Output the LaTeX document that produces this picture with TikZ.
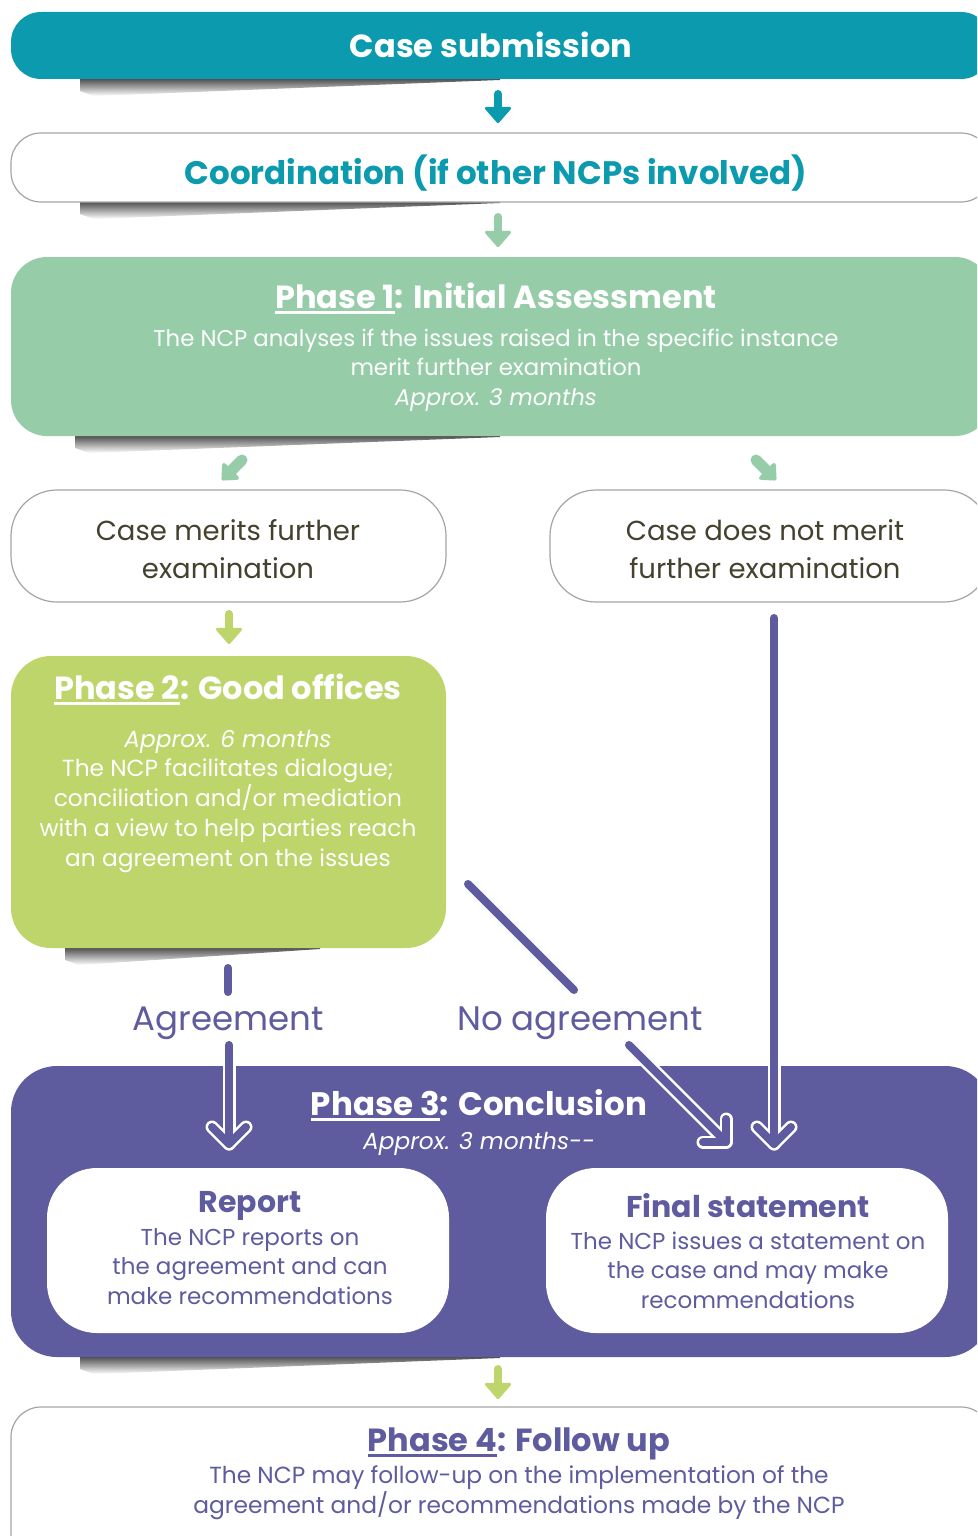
\documentclass[tikz,border=0pt]{standalone}
\usepackage{fontspec}
\setmainfont{Poppins}
\newsavebox{\ulsave}
\newcommand{\ulx}[1]{\sbox{\ulsave}{#1}\rlap{\rule[-5.5pt]{\wd\ulsave}{2.8pt}}\usebox{\ulsave}}
\usetikzlibrary{arrows.meta,calc}
\definecolor{tealA}{HTML}{0B9AAE}
\definecolor{greenA}{HTML}{96CCA8}
\definecolor{limeA}{HTML}{BDD56B}
\definecolor{purpA}{HTML}{5E5B9E}
\definecolor{darkA}{HTML}{45412F}
\definecolor{edgeA}{HTML}{A5A5A5}
\newcommand{\fs}[2]{\fontsize{#1}{#2}\selectfont}
\newcommand{\dropshadow}[3]{%
  \shade[top color=black!80, bottom color=white]
    (#1,#3-3) -- (#2,#3-3) -- (#2,#3+1) -- (#1+14,#3+17) -- (#1,#3+12) -- cycle;}
\tikzset{
  boxshape/.style={rectangle, inner sep=0pt, outer sep=0pt},
  whitebox/.style={boxshape, draw=edgeA, line width=1.2pt, fill=white},
  fillbox/.style={boxshape, fill=#1},
  txt/.style={inner sep=0pt, outer sep=0pt, align=center, anchor=base},
  fat/.style={draw=#1, line width=8pt, line cap=round,
    -{Triangle[round, length=17pt, width=29pt, line width=3pt]}},
  fatdiag/.style={draw=#1, line width=11pt, line cap=round,
    -{Triangle[round, length=15pt, width=26pt, line width=4pt]}},
  pline/.style={draw=purpA, line width=8pt, line cap=round, line join=round},
  pedge/.style={draw=white, line width=13pt, line cap=round, line join=round},
}
\begin{document}
\begin{tikzpicture}[x=1pt,y=-1pt]
\path[use as bounding box] (0,0) rectangle (977,1536);
\clip (0,0) rectangle (977,1536);
\fill[white] (0,0) rectangle (977,1536);

% shadows
\dropshadow{80}{500}{79}
\dropshadow{80}{500}{202}
\dropshadow{75}{500}{436}
\dropshadow{65}{320}{948}
\dropshadow{80}{500}{1357}

% boxes
\node[fillbox=tealA, rounded corners=30pt, minimum width=980pt, minimum height=67pt] (case) at (501,45.5) {};
\node[whitebox, rounded corners=30pt, minimum width=980pt, minimum height=69pt] (coord) at (501,167.5) {};
\node[fillbox=greenA, rounded corners=36pt, minimum width=980pt, minimum height=179pt] (p1) at (501,346.5) {};
\node[whitebox, rounded corners=46pt, minimum width=435pt, minimum height=112pt] (m1) at (228.5,546) {};
\node[whitebox, rounded corners=46pt, minimum width=440pt, minimum height=112pt] (m2) at (770,546) {};
\node[fillbox=limeA, rounded corners=40pt, minimum width=435pt, minimum height=292pt] (p2) at (228.5,802) {};
\node[fillbox=purpA, rounded corners=46pt, minimum width=980pt, minimum height=291pt] (p3) at (501,1211.5) {};
\node[fillbox=white, rounded corners=50pt, minimum width=402pt, minimum height=165pt] (rep) at (248,1250.5) {};
\node[fillbox=white, rounded corners=50pt, minimum width=402pt, minimum height=165pt] (fin) at (747,1250.5) {};
\node[whitebox, rounded corners=30pt, minimum width=980pt, minimum height=170pt] (p4) at (501,1492) {};

% texts (anchor base = baseline of the last line)
\node[txt, text=white, font=\fs{32}{40}\bfseries] (tcase) at (491,58) {Case submission};
\node[txt, text=tealA, font=\fs{32.5}{40}\bfseries] (tcoord) at (496,184) {Coordination (if other NCPs involved)};
\node[txt, text=white, font=\fs{32}{40}\bfseries] (tp1) at (496,308) {\ulx{Phase 1}: Initial Assessment};
\node[txt, text=white, font=\fs{22.8}{29.5}] (bp1) at (496,405) {The NCP analyses if the issues raised in the specific instance\\merit further examination\\\itshape Approx. 3 months};
\node[txt, text=darkA, font=\fs{27.5}{38}] (tm1) at (228,578) {Case merits further\\examination};
\node[txt, text=darkA, font=\fs{27.5}{38}] (tm2) at (765,578) {Case does not merit\\further examination};
\node[txt, text=white, font=\fs{32}{40}\bfseries] (tp2) at (228,699) {\ulx{Phase 2}: Good offices};
\node[txt, text=white, font=\fs{23.3}{29.7}] (bp2) at (228,866) {\itshape Approx. 6 months\\The NCP facilitates dialogue;\\conciliation and/or mediation\\with a view to help parties reach\\an agreement on the issues};
\node[txt, text=purpA, font=\fs{34}{40}] (agr) at (228,1030) {Agreement};
\node[txt, text=purpA, font=\fs{34}{40}] (nagr) at (580,1030) {No agreement};
\node[txt, text=white, font=\fs{32.5}{40}\bfseries] (tp3) at (479,1115) {\ulx{Phase 3}: Conclusion};
\node[txt, text=white, font=\fs{23.3}{30}\itshape] (bp3) at (479,1149) {Approx. 3 months{-}{-}};
\node[txt, text=purpA, font=\fs{30}{36}\bfseries] (trep) at (250,1212) {Report};
\node[txt, text=purpA, font=\fs{23}{29.5}] (brep) at (250,1304) {The NCP reports on\\the agreement and can\\make recommendations};
\node[txt, text=purpA, font=\fs{30}{36}\bfseries] (tfin) at (748,1217) {Final statement};
\node[txt, text=purpA, font=\fs{23}{29.5}] (bfin) at (748,1308) {The NCP issues a statement on\\the case and may make\\recommendations};
\node[txt, text=purpA, font=\fs{32}{40}\bfseries] (tp4) at (519,1451) {\ulx{Phase 4}: Follow up};
\node[txt, text=purpA, font=\fs{23.3}{30}] (bp4) at (519,1513) {The NCP may follow-up on the implementation of the\\agreement and/or recommendations made by the NCP};

% fat arrows
\draw[fat=tealA] ([xshift=-3pt,yshift=-15pt]case.south) -- ([xshift=-3pt,yshift=10pt]coord.north);
\draw[fat=greenA] ([xshift=-3pt,yshift=-15pt]coord.south) -- ([xshift=-3pt,yshift=10pt]p1.north);
\coordinate (d1a) at (242,460);
\coordinate (d1b) at (222,480);
\coordinate (d2a) at (756,460);
\coordinate (d2b) at (776,480);
\draw[fatdiag=greenA] (d1a) -- (d1b);
\draw[fatdiag=greenA] (d2a) -- (d2b);
\draw[fat=limeA] ([xshift=0.5pt,yshift=-12pt]m1.south) -- ([xshift=0.5pt,yshift=12pt]p2.north);
\draw[fat=limeA] ([xshift=-3pt,yshift=-12pt]p3.south) -- ([xshift=-3pt,yshift=8pt]p4.north);

% purple connectors
\coordinate (ag1) at ([yshift=-20pt]p2.south -| agr);
\coordinate (ag2) at ([yshift=-44pt]p2.south -| agr);
\coordinate (ag3) at (229,1045);
\coordinate (ag4) at (229,1144);
\coordinate (na1) at (468,884);
\coordinate (na2) at (574,990);
\coordinate (na3) at (629,1045);
\coordinate (na4) at (726,1142);
\coordinate (nm1) at (774,618);
\coordinate (nm2) at (774,1144);
\foreach \sty in {pedge,pline}{
  \draw[\sty] (ag3) -- (ag4);
  \draw[\sty] ([shift={(-17,-17)}]ag4) -- (ag4) -- ([shift={(17,-17)}]ag4);
  \draw[\sty] (na3) -- (na4);
  \draw[\sty] ([shift={(-23,0)}]na4) -- (na4) -- ([shift={(0,-23)}]na4);
  \draw[\sty] (nm1) -- (nm2);
  \draw[\sty] ([shift={(-17,-17)}]nm2) -- (nm2) -- ([shift={(17,-17)}]nm2);
}
\draw[pline] (ag1) -- (ag2);
\draw[pline] (na1) -- (na2);
\end{tikzpicture}
\end{document}
